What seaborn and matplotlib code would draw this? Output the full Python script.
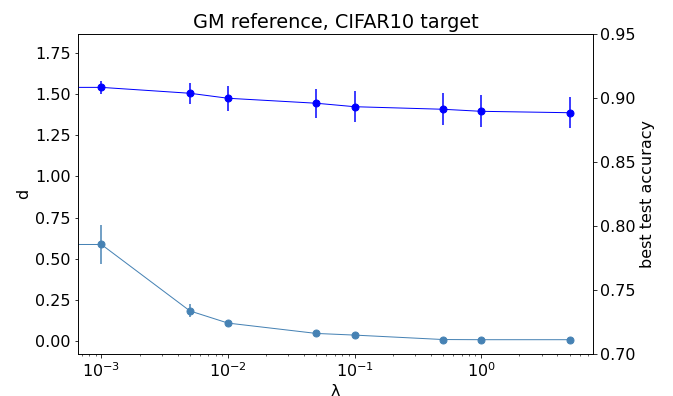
import matplotlib
matplotlib.use("Agg")
import matplotlib.pyplot as plt
import seaborn as sns
import numpy as np

# Regularisation strengths (0 = unregularised baseline)
lambdas = [0.0, 1e-3, 5e-3, 1e-2, 5e-2, 1e-1, 5e-1, 1.0, 5.0]

# Distance d to the reference (left axis)
d_mean = [0.59, 0.586, 0.182, 0.108, 0.045, 0.035, 0.008, 0.007, 0.007]
d_err = [0.12, 0.12, 0.04, 0.012, 0.008, 0.008, 0.005, 0.004, 0.004]

# Best test accuracy (right axis)
acc_mean = [0.908, 0.9083, 0.9037, 0.8998, 0.8959, 0.8932, 0.8912, 0.8896, 0.8885]
acc_err = [0.0053, 0.0053, 0.0083, 0.0096, 0.0115, 0.0122, 0.0126, 0.0125, 0.0121]

sns.set_style("ticks", rc={
    "axes.edgecolor": "black",
    "xtick.color": "black",
    "ytick.color": "black",
    "text.color": "black",
    "axes.labelcolor": "black",
    "xtick.direction": "out",
    "ytick.direction": "out",
})
plt.rcParams.update({
    "font.family": ["DejaVu Sans"],
    "font.size": 16,
    "axes.titlesize": "large",
    "axes.linewidth": 0.8,
    "xtick.major.size": 3.5,
    "ytick.major.size": 3.5,
    "xtick.minor.size": 2,
    "ytick.minor.size": 2,
    "xtick.major.width": 0.8,
    "ytick.major.width": 0.8,
    "xtick.minor.width": 0.6,
    "ytick.minor.width": 0.6,
})

fig = plt.figure(figsize=(673 / 72, 396 / 72), dpi=72)
ax = fig.add_axes([78 / 673, (396 - 354) / 396, (593 - 78) / 673, (354 - 34) / 396])
ax.set_xscale("log")

ax.errorbar(lambdas, d_mean, yerr=d_err, color="steelblue", marker="o",
            markersize=7, lw=1, elinewidth=1.5, capsize=0)
ax.set_ylim(-0.08, 1.866)
ax.set_ylabel("d")
ax.set_xlabel("λ")

ax2 = ax.twinx()
ax2.errorbar(lambdas, acc_mean, yerr=acc_err, color="blue", marker="o",
             markersize=7, lw=1, elinewidth=1.5, capsize=0)
ax2.set_ylim(0.70, 0.95)
ax2.set_ylabel("best test accuracy")

ax.set_xlim(10 ** -3.185, 10 ** 0.884)
ax.set_yticks([0.0, 0.25, 0.5, 0.75, 1.0, 1.25, 1.5, 1.75])
ax2.set_yticks([0.70, 0.75, 0.80, 0.85, 0.90, 0.95])
ax.set_title("GM reference, CIFAR10 target")

for a in (ax, ax2):
    for s in a.spines.values():
        s.set_visible(True)
        s.set_color("black")

fig.savefig("out.png", dpi=72)
